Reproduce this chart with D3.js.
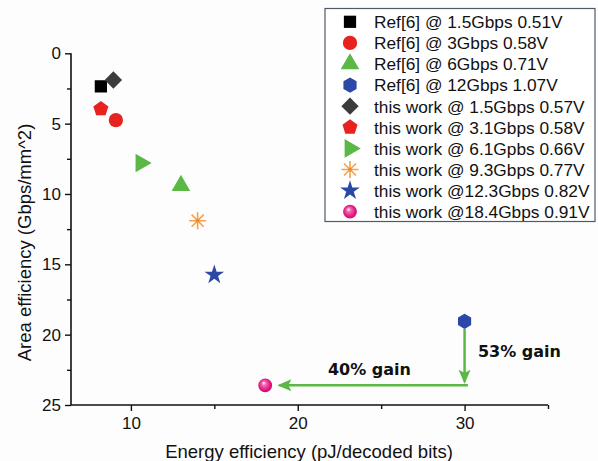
<!DOCTYPE html>
<html><head><meta charset="utf-8">
<script src="https://cdn.jsdelivr.net/npm/d3@7"></script>
<style>
html,body{margin:0;padding:0;background:#fdfdfe;}
svg{display:block;}
</style></head>
<body>
<svg id="chart" width="598" height="461"></svg>
<script>
// ---- data ----
const labels = [
  "Ref[6] @ 1.5Gbps 0.51V",
  "Ref[6] @ 3Gbps 0.58V",
  "Ref[6] @ 6Gbps 0.71V",
  "Ref[6] @ 12Gbps 1.07V",
  "this work @ 1.5Gbps 0.57V",
  "this work @ 3.1Gbps 0.58V",
  "this work @ 6.1Gpbs 0.66V",
  "this work @ 9.3Gbps 0.77V",
  "this work @12.3Gbps 0.82V",
  "this work @18.4Gbps 0.91V"
];
const energy = [8.2, 9.1, 13.0, 30.0, 8.95, 8.2, 10.6, 14.0, 15.0, 18.05];
const area   = [2.35, 4.75, 9.4, 19.05, 1.9, 3.95, 7.8, 11.9, 15.75, 23.6];
const shapes = ["square","circle","triangle","hexagon","diamond","pentagon","rtriangle","asterisk","star","sphere"];
const colors = ["#000000","#e8221f","#5bb845","#2c48a6","#3c3c3c","#e8221f","#5bb845","#f2a14e","#2c48a6","#e2127f"];
const xTicks = [10, 20, 30];
const yTicks = [0, 5, 10, 15, 20, 25];
// annotations (data coordinates)
const arrowV = {x: 30, y1: 19.6, y2: 23.35};
const arrowH = {y: 23.6, x1: 30.2, x2: 18.9};
const notes = [
  {text: "53% gain", x: 30.8, y: 21.6, anchor: "start"},
  {text: "40% gain", x: 24.3, y: 22.85, anchor: "middle"}
];

// ---- layout ----
const svg = d3.select("#chart");
const x = d3.scaleLinear().domain([6.41, 35]).range([71, 548]);
const y = d3.scaleLinear().domain([0, 25]).range([53.3, 405]);

// custom symbol types
function poly(n, rot){
  return {draw(ctx, size){
    const r = Math.sqrt(size / (n * Math.sin(2*Math.PI/n) / 2));
    for(let i=0;i<n;i++){
      const a = rot + i*2*Math.PI/n;
      const px = r*Math.sin(a), py = -r*Math.cos(a);
      if(i===0) ctx.moveTo(px,py); else ctx.lineTo(px,py);
    }
    ctx.closePath();
  }};
}
const symHex = poly(6, 0);
const symPent = poly(5, 0);
const symDiamond = poly(4, 0);
const symRTri = poly(3, Math.PI/2);
const symAst = {draw(ctx, size){
  const r = Math.sqrt(size)/2;
  for(let i=0;i<4;i++){
    const a = i*Math.PI/4;
    ctx.moveTo(-r*Math.cos(a), -r*Math.sin(a));
    ctx.lineTo(r*Math.cos(a), r*Math.sin(a));
  }
}};
const defs = svg.append("defs");
const grad = defs.append("radialGradient").attr("id","sph").attr("cx","0.5").attr("cy","0.5").attr("r","0.6").attr("fx","0.38").attr("fy","0.32");
grad.append("stop").attr("offset","0").attr("stop-color","#ffffff");
grad.append("stop").attr("offset","0.25").attr("stop-color","#f26bb0");
grad.append("stop").attr("offset","0.7").attr("stop-color","#e2127f");
grad.append("stop").attr("offset","1").attr("stop-color","#b80a64");

const shapeDef = {
  square:   {type: d3.symbolSquare, size: 150},
  circle:   {type: d3.symbolCircle, size: 160},
  triangle: {type: d3.symbolTriangle, size: 150},
  hexagon:  {type: symHex, size: 150},
  diamond:  {type: symDiamond, size: 150},
  pentagon: {type: symPent, size: 150},
  rtriangle:{type: symRTri, size: 150},
  asterisk: {type: symAst, size: 290},
  star:     {type: d3.symbolStar, size: 120},
  sphere:   {type: d3.symbolCircle, size: 150}
};
function drawMarker(g, i, cx, cy){
  const s = shapeDef[shapes[i]];
  const p = g.append("path")
    .attr("d", d3.symbol().type(s.type).size(s.size)())
    .attr("transform", `translate(${cx},${cy})`);
  if(shapes[i]==="asterisk"){
    p.attr("fill","none").attr("stroke", colors[i]).attr("stroke-width",1.6);
    g.append("circle").attr("cx",cx).attr("cy",cy).attr("r",1.8).attr("fill","#f08a2a");
  } else if(shapes[i]==="sphere"){
    p.attr("fill","url(#sph)");
  } else {
    p.attr("fill", colors[i]);
  }
}

// axes
const xAxis = svg.append("g").attr("transform","translate(0,405)")
  .call(d3.axisBottom(x).tickValues(xTicks).tickSize(6).tickPadding(6).tickFormat(d3.format("d")));
svg.append("g").attr("transform","translate(0,405)")
  .call(d3.axisBottom(x).tickValues([15,25,35]).tickSize(4).tickFormat(""))
  .select(".domain").remove();
const yAxis = svg.append("g").attr("transform","translate(71,0)")
  .call(d3.axisLeft(y).tickValues(yTicks).tickSize(6).tickPadding(4).tickFormat(d3.format("d")));
svg.append("g").attr("transform","translate(71,0)")
  .call(d3.axisLeft(y).tickValues([2.5,7.5,12.5,17.5,22.5]).tickSize(4).tickFormat(""))
  .select(".domain").remove();
svg.selectAll(".domain").attr("stroke","#111").attr("stroke-width",1.6);
svg.selectAll(".tick line").attr("stroke","#111").attr("stroke-width",1.4);
svg.selectAll(".tick text").attr("font-family","'Liberation Sans', Arial, sans-serif").attr("font-size",17).attr("fill","#111");
xAxis.select(".domain").attr("d","M71,0H548");
yAxis.select(".domain").attr("d","M0,53.3V405");

// axis titles
svg.append("text").attr("x",309).attr("y",458).attr("text-anchor","middle")
  .attr("font-family","'Liberation Sans', Arial, sans-serif").attr("font-size",18.5).attr("fill","#111")
  .text("Energy efficiency (pJ/decoded bits)");
svg.append("text").attr("transform","translate(31,242.5) rotate(-90)").attr("text-anchor","middle")
  .attr("font-family","'Liberation Sans', Arial, sans-serif").attr("font-size",18.5).attr("fill","#111")
  .text("Area efficiency (Gbps/mm^2)");

// arrows
const green = "#5bb845";
const ag = svg.append("g");
function arrow(x1,y1,x2,y2){
  ag.append("line").attr("x1",x1).attr("y1",y1).attr("x2",x2).attr("y2",y2)
    .attr("stroke",green).attr("stroke-width",2.5);
  const ang = Math.atan2(y2-y1, x2-x1);
  const L = 12, W = 6;
  const bx = x2 - L*Math.cos(ang), by = y2 - L*Math.sin(ang);
  const nx = -Math.sin(ang), ny = Math.cos(ang);
  ag.append("path").attr("d",`M${x2+2*Math.cos(ang)},${y2+2*Math.sin(ang)}L${bx+W*nx},${by+W*ny}L${bx+3*Math.cos(ang)},${by+3*Math.sin(ang)}L${bx-W*nx},${by-W*ny}Z`)
    .attr("fill",green);
}
arrow(x(arrowV.x), y(arrowV.y1), x(arrowV.x), y(arrowV.y2));
arrow(x(arrowH.x1), y(arrowH.y), x(arrowH.x2), y(arrowH.y));
svg.selectAll(".note").data(notes).join("text")
  .attr("x", d=>x(d.x)).attr("y", d=>y(d.y)).attr("text-anchor", d=>d.anchor)
  .attr("font-family","'DejaVu Sans', Verdana, sans-serif").attr("font-weight","bold")
  .attr("font-size",16).attr("fill","#111").text(d=>d.text);

// points
const pg = svg.append("g");
energy.forEach((e,i)=> drawMarker(pg, i, x(e), y(area[i])));

// legend
const lg = svg.append("g");
lg.append("rect").attr("x",325).attr("y",8.5).attr("width",270).attr("height",213)
  .attr("fill","#ffffff").attr("stroke","#4f5a66").attr("stroke-width",1.2);
labels.forEach((t,i)=>{
  const cy = 21.8 + i*21.1;
  drawMarker(lg, i, 350, cy);
  lg.append("text").attr("x",374).attr("y",cy+6.3)
    .attr("font-family","'Liberation Sans', Arial, sans-serif").attr("font-size",17.3).attr("fill","#111")
    .text(t);
});
</script>
</body></html>
